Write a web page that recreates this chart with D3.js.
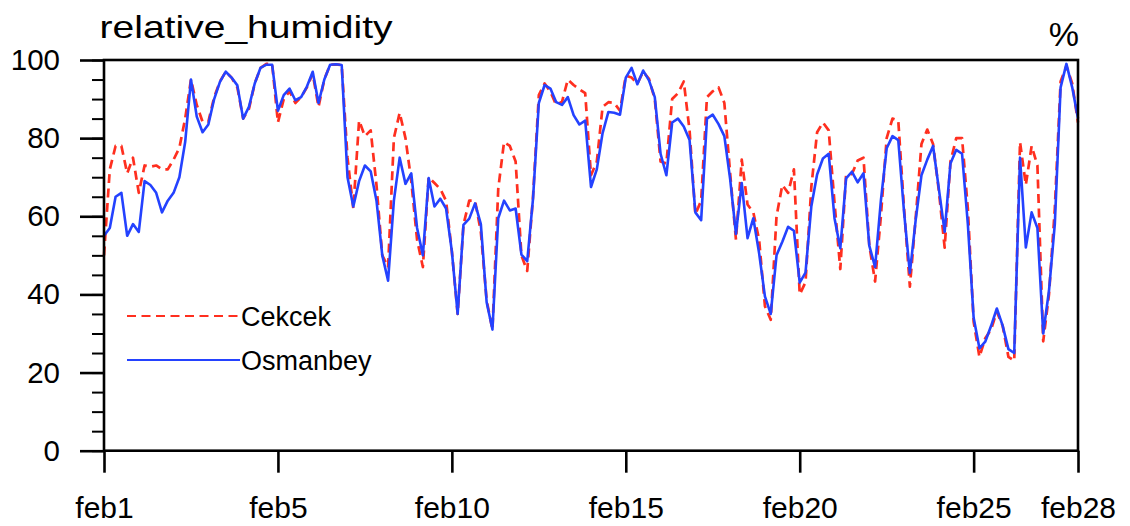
<!DOCTYPE html>
<html>
<head>
<meta charset="utf-8">
<script src="https://cdn.jsdelivr.net/npm/d3@7"></script>
<style>
  body { margin: 0; background: #fff; }
  svg { display: block; }
  text { font-family: "Liberation Sans", Arial, Helvetica, sans-serif; fill: #000; }
</style>
</head>
<body>
<svg id="chart" width="1130" height="526"></svg>
<script>
// Relative humidity (%) sampled every 4 hours from feb1 00:00 (six samples per day)
const samplesPerDay = 6;

const cekcek = [
  50, 72, 78, 78, 71, 75, 66, 73, 72.7, 73, 72, 72, 74.5, 77.5, 85, 95, 88.5, 84.2, 84.2, 90.5,
  94.5, 97, 95.5, 93, 85, 87.5, 94, 98, 99, 99, 84, 90, 92, 89, 90.5, 93, 96.5, 88, 95, 98.8,
  98.9, 98.7, 75, 62, 84.5, 80.5, 82, 68, 50, 47, 80, 86.5, 80, 69, 54, 47, 70, 68.5, 67, 64,
  51, 35, 57.8, 64, 64, 56, 38.5, 31, 67, 79, 78, 74, 50, 46, 65, 91, 94, 91.9, 88.5, 89.3,
  95, 93.6, 92.5, 91.5, 70.5, 74, 88, 89.2, 89, 87, 96, 95.5, 94, 97, 95.2, 90, 74, 73.5, 90, 91.5,
  94.5, 82, 60.5, 64, 90.5, 92, 93, 89, 71, 54, 74.5, 63, 61, 54, 37, 33.5, 60, 68, 66, 72,
  40, 43.1, 67.5, 81.5, 84, 82, 63.5, 46.5, 70.6, 70.8, 74.3, 75, 52.6, 43.3, 60, 80, 85, 84.5, 62, 42,
  59.5, 78.5, 82.2, 78.5, 66.5, 52, 74, 80, 80, 62, 33, 24, 28.8, 31, 35.6, 32, 24, 23, 79, 68,
  78, 73, 28, 40, 62, 94.5, 98.5, 94, 84
];

const osmanbey = [
  55, 57, 65, 66, 55, 58, 56, 69, 68, 66, 61, 64, 66, 70, 79, 95, 85.5, 81.5, 83.5, 90,
  94.4, 97, 95.5, 93.5, 85, 88, 94, 98, 98.8, 98.8, 87, 91, 92.7, 89.7, 90.5, 93.2, 97, 89, 95, 98.8,
  98.9, 98.7, 70, 62.5, 69, 73, 71.5, 64, 50, 43.5, 64, 75, 68.3, 71, 57, 50, 69.8, 62.5, 64.5, 62,
  51, 35, 57.8, 59.4, 63.3, 58, 38, 31, 59.5, 64, 61.5, 62, 50.2, 48.5, 64.5, 89, 93.6, 92.7, 89.2, 88.5,
  90.5, 85.9, 83.5, 84.5, 67.5, 72, 81.3, 86.7, 86.5, 86, 95.5, 98, 93.8, 97.3, 94.8, 90.5, 76, 70.5, 84, 85,
  83, 79.5, 61, 59, 85, 86, 83.6, 80.5, 69.5, 55.5, 68.5, 54.4, 59.5, 50.5, 39.5, 35, 50, 53.5, 57.3, 56.3,
  43, 45.6, 62.5, 70.7, 74.8, 76, 59.5, 51.8, 69.7, 71.4, 68.7, 71, 52.5, 47, 64, 77.4, 80.5, 79.5, 61, 45.5,
  59, 70.5, 74.5, 78, 67, 56, 73.5, 77, 76, 58, 34, 26.2, 27.9, 31.9, 36.4, 32, 26, 25, 75, 52,
  61, 57, 30, 41, 58, 93, 99, 93, 85
];

const seriesNames = ["Cekcek", "Osmanbey"];

// x axis: day offset from feb1 00:00
const xTickDays = [0, 5, 10, 15, 20, 25, 28];
const xTickLabels = ["feb1", "feb5", "feb10", "feb15", "feb20", "feb25", "feb28"];
const yTickValues = [0, 20, 40, 60, 80, 100];
const yMinorValues = d3.range(0, 101, 5);

const titleText = "relative_humidity";
const unitText = "%";

// ---- layout ----
const plot = { left: 104, right: 1078, top: 60, bottom: 450.7 };
const colors = { Cekcek: "#ff2f1f", Osmanbey: "#2442ff" };
const dashPattern = "9,5.5";

const svg = d3.select("#chart");

const x = d3.scaleLinear().domain([0, 28]).range([plot.left, plot.right]);
const y = d3.scaleLinear().domain([0, 100]).range([plot.bottom, plot.top]);

// data lines
const line = d3.line()
  .x((d, i) => x(i / samplesPerDay))
  .y(d => y(d));

svg.append("path")
  .datum(cekcek)
  .attr("fill", "none")
  .attr("stroke", colors.Cekcek)
  .attr("stroke-width", 2.7)
  .attr("stroke-dasharray", dashPattern)
  .attr("stroke-linejoin", "round")
  .attr("d", line);

svg.append("path")
  .datum(osmanbey)
  .attr("fill", "none")
  .attr("stroke", colors.Osmanbey)
  .attr("stroke-width", 2.6)
  .attr("stroke-linejoin", "round")
  .attr("d", line);

// minor y ticks
svg.append("g")
  .attr("transform", `translate(${plot.left},0)`)
  .call(d3.axisLeft(y).tickValues(yMinorValues).tickSize(12).tickSizeOuter(0).tickFormat(""))
  .call(g => g.select(".domain").remove())
  .call(g => g.selectAll("line").attr("stroke", "#000").attr("stroke-width", 2));

// major y ticks and labels
svg.append("g")
  .attr("transform", `translate(${plot.left},0)`)
  .call(d3.axisLeft(y).tickValues(yTickValues).tickSize(24).tickSizeOuter(0).tickPadding(20))
  .call(g => g.select(".domain").remove())
  .call(g => g.selectAll("line").attr("stroke", "#000").attr("stroke-width", 2.6))
  .call(g => g.selectAll("text")
    .attr("font-size", 29.5)
    .attr("fill", "#000")
    .style("font-family", '"Liberation Sans", Arial, sans-serif'));

// x ticks and labels
svg.append("g")
  .attr("transform", `translate(0,${plot.bottom})`)
  .call(d3.axisBottom(x).tickValues(xTickDays).tickSize(22).tickSizeOuter(0).tickPadding(24)
    .tickFormat((d, i) => xTickLabels[i]))
  .call(g => g.select(".domain").remove())
  .call(g => g.selectAll("line").attr("stroke", "#000").attr("stroke-width", 2.6))
  .call(g => g.selectAll("text")
    .attr("font-size", 30)
    .attr("fill", "#000")
    .style("font-family", '"Liberation Sans", Arial, sans-serif'));

// plot frame
svg.append("rect")
  .attr("x", plot.left)
  .attr("y", plot.top)
  .attr("width", plot.right - plot.left)
  .attr("height", plot.bottom - plot.top)
  .attr("fill", "none")
  .attr("stroke", "#000")
  .attr("stroke-width", 2.6);

// title and units
svg.append("text")
  .attr("x", 99.5)
  .attr("y", 38)
  .attr("font-size", 32)
  .attr("textLength", 293)
  .attr("lengthAdjust", "spacingAndGlyphs")
  .text(titleText);

svg.append("text")
  .attr("x", 1079)
  .attr("y", 46)
  .attr("text-anchor", "end")
  .attr("font-size", 34)
  .text(unitText);

// legend
const legend = svg.append("g");
const legendRows = [
  { name: seriesNames[0], y: 316, dash: dashPattern },
  { name: seriesNames[1], y: 360, dash: null }
];
legendRows.forEach(r => {
  legend.append("line")
    .attr("x1", 127).attr("x2", 240)
    .attr("y1", r.y).attr("y2", r.y)
    .attr("stroke", colors[r.name])
    .attr("stroke-width", 2)
    .attr("stroke-dasharray", r.dash);
  legend.append("text")
    .attr("x", 241)
    .attr("y", r.y + 10)
    .attr("font-size", 27)
    .text(r.name);
});
</script>
</body>
</html>
